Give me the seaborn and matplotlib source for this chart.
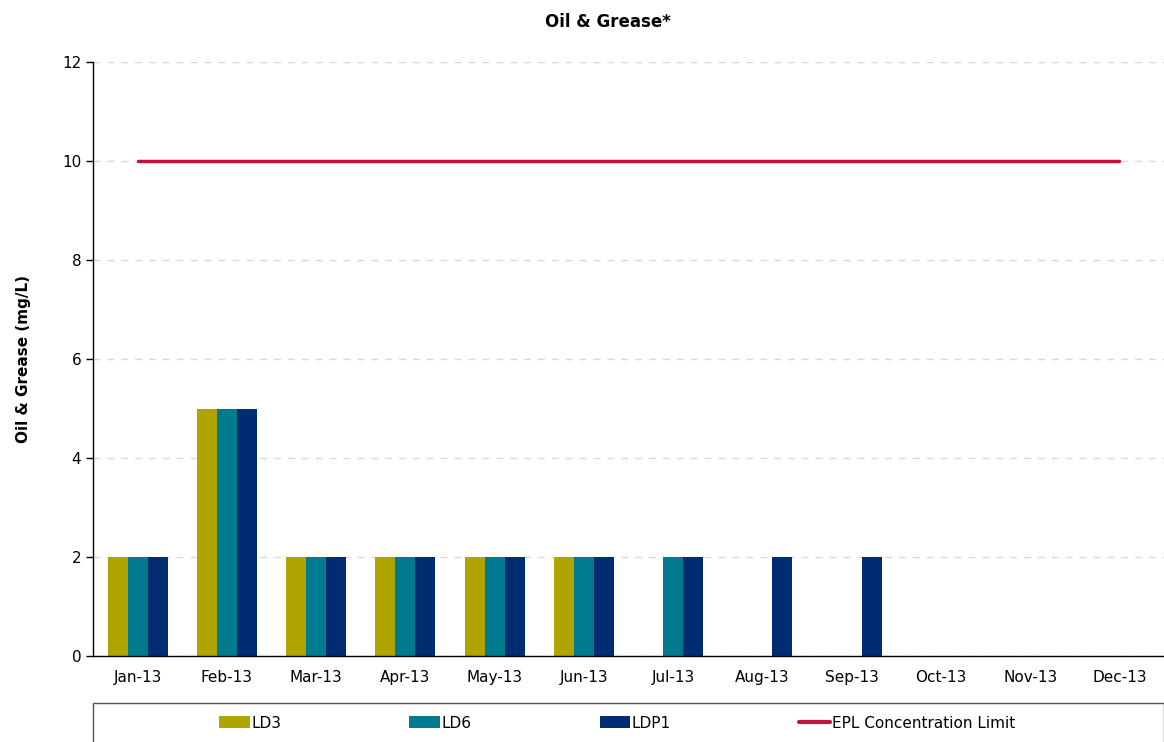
import matplotlib
matplotlib.use("Agg")
import matplotlib.pyplot as plt
from matplotlib.patches import Rectangle
from matplotlib.lines import Line2D
from matplotlib.patches import Patch
import seaborn as sns
import numpy as np
import pandas as pd

months = ["Jan-13", "Feb-13", "Mar-13", "Apr-13", "May-13", "Jun-13",
          "Jul-13", "Aug-13", "Sep-13", "Oct-13", "Nov-13", "Dec-13"]
ld3 = [2, 5, 2, 2, 2, 2, np.nan, np.nan, np.nan, np.nan, np.nan, np.nan]
ld6 = [2, 5, 2, 2, 2, 2, 2, np.nan, np.nan, np.nan, np.nan, np.nan]
ldp1 = [2, 5, 2, 2, 2, 2, 2, 2, 2, np.nan, np.nan, np.nan]
epl_limit = [10] * 12

series = ["LD3", "LD6", "LDP1"]
colors = {"LD3": "#B0A400", "LD6": "#007A8E", "LDP1": "#002D72"}
line_color = "#C0143C"

df = pd.DataFrame({
    "month": months * 3,
    "site": ["LD3"] * 12 + ["LD6"] * 12 + ["LDP1"] * 12,
    "value": ld3 + ld6 + ldp1,
})

sns.set_style("white")
plt.rcParams['font.family'] = ['DejaVu Sans']
plt.rcParams['text.color'] = 'black'
plt.rcParams['axes.labelcolor'] = 'black'
plt.rcParams['xtick.color'] = 'black'
plt.rcParams['ytick.color'] = 'black'

fig = plt.figure(figsize=(11.64, 7.42), dpi=100)
ax = fig.add_axes([0.0799, 0.1159, 0.9201, 0.8005])

sns.barplot(data=df, x="month", y="value", hue="site", order=months,
            hue_order=series, palette=colors, width=0.67, saturation=1,
            errorbar=None, linewidth=0, ax=ax, legend=False)
sns.lineplot(x=np.arange(12), y=epl_limit, color=line_color, linewidth=2.5, ax=ax)

ax.set_xlim(-0.5, 11.5)
ax.set_ylim(0, 12)
ax.set_yticks([0, 2, 4, 6, 8, 10, 12])
ax.yaxis.grid(True, linestyle=(0, (5, 5)), color="#d9d9d9", linewidth=1)
ax.set_axisbelow(True)
for s in ["top", "right"]:
    ax.spines[s].set_visible(False)
for s in ["left", "bottom"]:
    ax.spines[s].set_color("black")
    ax.spines[s].set_linewidth(1)

ax.set_xticks(np.arange(12))
ax.set_xticklabels(months)
ax.set_xticks(np.arange(-0.5, 12, 1), minor=True)
ax.tick_params(axis="x", which="major", length=0, labelsize=11, pad=10)
ax.tick_params(axis="x", which="minor", length=5, width=1, color="black")
ax.tick_params(axis="y", length=5, width=1, color="black", labelsize=11, left=True)
ax.set_xlabel("")
ax.set_ylabel("Oil & Grease (mg/L)", fontsize=11, fontweight="bold", labelpad=22)

fig.text(0.522, 0.97, "Oil & Grease*", ha="center", va="center",
         fontsize=12, fontweight="bold")

# legend box below the plot
fig.patches.append(Rectangle((0.0799, -0.01), 0.9201, 0.0626, transform=fig.transFigure,
                             facecolor="white", edgecolor="#555555", linewidth=1))
handles = [Patch(facecolor=colors[s], edgecolor="none") for s in series]
handles.append(Line2D([0], [0], color=line_color, linewidth=3))
labels = series + ["EPL Concentration Limit"]
fig.legend(handles, labels, loc="center", bbox_to_anchor=(0.530, 0.0256),
           ncol=4, frameon=False, fontsize=11, handlelength=2.0, handleheight=0.8,
           handletextpad=0.1, columnspacing=8.4)

fig.savefig("out.png", dpi=100)
